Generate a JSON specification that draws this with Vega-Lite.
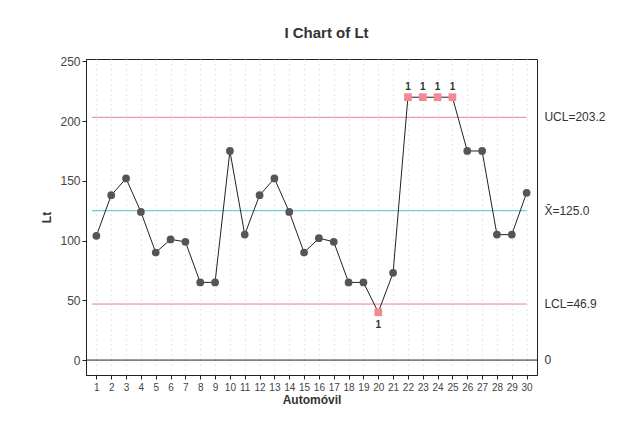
{
  "$schema": "https://vega.github.io/schema/vega-lite/v6.json",
  "width": 451,
  "height": 316,
  "autosize": {"type": "none"},
  "padding": {"left": 86, "top": 59, "right": 88, "bottom": 50},
  "background": "white",
  "title": {"text": "I Chart of Lt", "font": "Liberation Sans", "fontSize": 15, "fontWeight": "bold", "color": "#333", "anchor": "middle", "dx": 15, "offset": 14},
  "config": {
    "view": {"stroke": "#222", "strokeWidth": 1},
    "font": "Liberation Sans",
    "axisX": {"tickCount": 30, "labelOverlap": false, "labelFlush": false,
      "labelFontSize": 10, "labelColor": "#444", "labelPadding": 3, "tickSize": 4, "tickColor": "#222", "domainColor": "#222",
      "grid": true, "gridColor": "#b5dde8", "gridDash": [1, 4], "gridWidth": 1.2,
      "titleFont": "Liberation Sans", "titleFontSize": 12, "titleFontWeight": "bold", "titleColor": "#333", "titlePadding": 2},
    "axisY": {"tickCount": 5, "titleFont": "Liberation Sans", "titleFontSize": 12, "titleFontWeight": "bold", "titleColor": "#333", "titlePadding": 6,
      "labelFontSize": 12, "labelColor": "#444", "tickSize": 4, "tickColor": "#222", "domainColor": "#222", "grid": false}
  },
  "datasets": {
    "pts": [
      {"obs": 1, "Lt": 104, "st": "ok"},
      {"obs": 2, "Lt": 138, "st": "ok"},
      {"obs": 3, "Lt": 152, "st": "ok"},
      {"obs": 4, "Lt": 124, "st": "ok"},
      {"obs": 5, "Lt": 90, "st": "ok"},
      {"obs": 6, "Lt": 101, "st": "ok"},
      {"obs": 7, "Lt": 99, "st": "ok"},
      {"obs": 8, "Lt": 65, "st": "ok"},
      {"obs": 9, "Lt": 65, "st": "ok"},
      {"obs": 10, "Lt": 175, "st": "ok"},
      {"obs": 11, "Lt": 105, "st": "ok"},
      {"obs": 12, "Lt": 138, "st": "ok"},
      {"obs": 13, "Lt": 152, "st": "ok"},
      {"obs": 14, "Lt": 124, "st": "ok"},
      {"obs": 15, "Lt": 90, "st": "ok"},
      {"obs": 16, "Lt": 102, "st": "ok"},
      {"obs": 17, "Lt": 99, "st": "ok"},
      {"obs": 18, "Lt": 65, "st": "ok"},
      {"obs": 19, "Lt": 65, "st": "ok"},
      {"obs": 20, "Lt": 40, "st": "out", "pos": "below"},
      {"obs": 21, "Lt": 73, "st": "ok"},
      {"obs": 22, "Lt": 220, "st": "out", "pos": "above"},
      {"obs": 23, "Lt": 220, "st": "out", "pos": "above"},
      {"obs": 24, "Lt": 220, "st": "out", "pos": "above"},
      {"obs": 25, "Lt": 220, "st": "out", "pos": "above"},
      {"obs": 26, "Lt": 175, "st": "ok"},
      {"obs": 27, "Lt": 175, "st": "ok"},
      {"obs": 28, "Lt": 105, "st": "ok"},
      {"obs": 29, "Lt": 105, "st": "ok"},
      {"obs": 30, "Lt": 140, "st": "ok"}
    ],
    "limits": [
      {"name": "UCL", "v": 203.2, "x1": 0.7, "x2": 30, "label": "UCL=203.2", "color": "#e8838a"},
      {"name": "CL", "v": 125.0, "x1": 0.7, "x2": 30, "label": "X̄=125.0", "color": "#4cc4c8"},
      {"name": "LCL", "v": 46.9, "x1": 0.7, "x2": 30, "label": "LCL=46.9", "color": "#e8838a"},
      {"name": "Zero", "v": 0, "x1": 0.3, "x2": 30.7, "label": "0", "color": "#222222"}
    ]
  },
  "layer": [
    {
      "data": {"name": "limits"},
      "mark": {"type": "rule", "strokeWidth": 1},
      "encoding": {
        "x": {"field": "x1", "type": "quantitative", "title": "Automóvil", "scale": {"domain": [0.3, 30.7], "nice": false, "zero": false}},
        "x2": {"field": "x2"},
        "y": {"field": "v", "type": "quantitative", "title": "Lt", "scale": {"domain": [-12.5, 252], "nice": false}},
        "color": {"field": "color", "type": "nominal", "scale": null}
      }
    },
    {
      "data": {"name": "limits"},
      "mark": {"type": "text", "align": "left", "baseline": "middle", "fontSize": 12, "color": "#333", "font": "Liberation Sans"},
      "encoding": {
        "x": {"datum": 31.2, "type": "quantitative"},
        "y": {"field": "v", "type": "quantitative"},
        "text": {"field": "label"}
      }
    },
    {
      "data": {"name": "pts"},
      "mark": {"type": "line", "color": "#222", "strokeWidth": 1},
      "encoding": {
        "x": {"field": "obs", "type": "quantitative"},
        "y": {"field": "Lt", "type": "quantitative"}
      }
    },
    {
      "data": {"name": "pts"},
      "transform": [{"filter": "datum.st === 'ok'"}],
      "mark": {"type": "point", "shape": "circle", "filled": true, "size": 60, "color": "#555", "opacity": 1},
      "encoding": {
        "x": {"field": "obs", "type": "quantitative"},
        "y": {"field": "Lt", "type": "quantitative"}
      }
    },
    {
      "data": {"name": "pts"},
      "transform": [{"filter": "datum.st === 'out'"}],
      "mark": {"type": "point", "shape": "square", "filled": true, "size": 60, "color": "#f08a94", "opacity": 1},
      "encoding": {
        "x": {"field": "obs", "type": "quantitative"},
        "y": {"field": "Lt", "type": "quantitative"}
      }
    },
    {
      "data": {"name": "pts"},
      "transform": [{"filter": "datum.pos === 'above'"}],
      "mark": {"type": "text", "dy": -10, "fontSize": 10, "fontWeight": "bold", "color": "#333"},
      "encoding": {
        "x": {"field": "obs", "type": "quantitative"},
        "y": {"field": "Lt", "type": "quantitative"},
        "text": {"value": "1"}
      }
    },
    {
      "data": {"name": "pts"},
      "transform": [{"filter": "datum.pos === 'below'"}],
      "mark": {"type": "text", "dy": 13, "fontSize": 10, "fontWeight": "bold", "color": "#333"},
      "encoding": {
        "x": {"field": "obs", "type": "quantitative"},
        "y": {"field": "Lt", "type": "quantitative"},
        "text": {"value": "1"}
      }
    }
  ]
}
